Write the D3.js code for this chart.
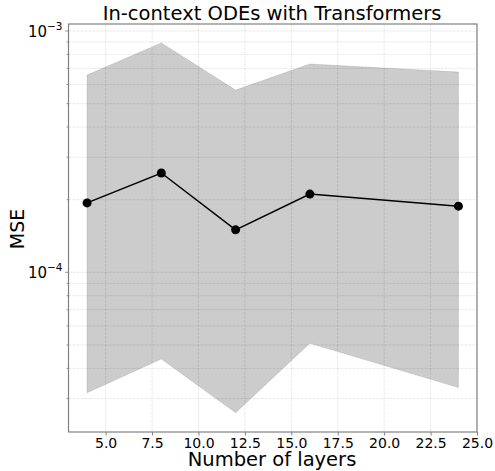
<!DOCTYPE html>
<html>
<head>
<meta charset="utf-8">
<script src="https://cdn.jsdelivr.net/npm/d3@7"></script>
<style>
  body { margin: 0; background: #fff; }
  text { font-family: "DejaVu Sans", sans-serif; fill: #000; }
</style>
</head>
<body>
<div id="vis"></div>
<script>
var layers = [4, 8, 12, 16, 24];
var mse = [1.94e-4, 2.58e-4, 1.50e-4, 2.11e-4, 1.88e-4];
var upper = [6.57e-4, 8.92e-4, 5.69e-4, 7.30e-4, 6.76e-4];
var lower = [3.17e-5, 4.37e-5, 2.62e-5, 5.08e-5, 3.33e-5];
var xTicks = [5, 7.5, 10, 12.5, 15, 17.5, 20, 22.5, 25];

function draw() {
  var width = 495, height = 471;
  var left = 68.5, right = 477, top = 24, bottom = 432;

  var svg = d3.select("#vis").append("svg")
              .attr("width", width)
              .attr("height", height);

  var x = d3.scaleLinear().domain([3, 25]).range([left, right]);
  var y = d3.scaleLog().domain([2.18e-5, 1.069e-3]).range([bottom, top]);

  // minor + major log ticks inside the domain
  var yTicksAll = [];
  [1e-5, 1e-4, 1e-3].forEach(function(d) {
    for (var k = 1; k < 10; k++) {
      var v = d * k;
      if (v >= y.domain()[0] && v <= y.domain()[1]) yTicksAll.push(v);
    }
  });

  var grid = svg.append("g");
  grid.selectAll(".hg").data(yTicksAll).enter().append("line")
      .attr("x1", left).attr("x2", right)
      .attr("y1", function(d) { return y(d); })
      .attr("y2", function(d) { return y(d); })
      .attr("stroke", "#b0b0b0").attr("stroke-opacity", 0.35)
      .attr("stroke-width", 0.8).attr("stroke-dasharray", "3,1");
  grid.selectAll(".vg").data(xTicks).enter().append("line")
      .attr("y1", top).attr("y2", bottom)
      .attr("x1", function(d) { return x(d); })
      .attr("x2", function(d) { return x(d); })
      .attr("stroke", "#b0b0b0").attr("stroke-opacity", 0.35)
      .attr("stroke-width", 0.8).attr("stroke-dasharray", "3,1");

  var band = d3.area()
      .x(function(d, i) { return x(layers[i]); })
      .y0(function(d, i) { return y(lower[i]); })
      .y1(function(d, i) { return y(upper[i]); });
  svg.append("path").datum(layers)
     .attr("d", band)
     .attr("fill", "#000").attr("fill-opacity", 0.2)
     .attr("stroke", "#000").attr("stroke-opacity", 0.1).attr("stroke-width", 1);

  var line = d3.line()
      .x(function(d, i) { return x(layers[i]); })
      .y(function(d) { return y(d); });
  svg.append("path").datum(mse)
     .attr("d", line).attr("fill", "none")
     .attr("stroke", "#000").attr("stroke-width", 1.5);
  svg.selectAll(".pt").data(mse).enter().append("circle")
     .attr("cx", function(d, i) { return x(layers[i]); })
     .attr("cy", function(d) { return y(d); })
     .attr("r", 4.5).attr("fill", "#000");

  // frame
  svg.append("rect")
     .attr("x", left).attr("y", top)
     .attr("width", right - left).attr("height", bottom - top)
     .attr("fill", "none").attr("stroke", "#808080").attr("stroke-width", 1.2);

  // x axis
  var xAxis = svg.append("g")
      .attr("transform", "translate(0," + bottom + ")")
      .call(d3.axisBottom(x).tickValues(xTicks).tickSize(3.5)
            .tickFormat(d3.format(".1f")));
  xAxis.select(".domain").remove();
  xAxis.selectAll("line").attr("stroke", "#808080");
  xAxis.selectAll("text").attr("font-size", 14).attr("y", 16).attr("dy", 0);

  // y axis
  var yAxis = svg.append("g").attr("transform", "translate(" + left + ",0)");
  yAxis.selectAll(".mt").data(yTicksAll).enter().append("line")
       .attr("x1", 0)
       .attr("x2", function(d) { return Math.abs(Math.log10(d) - Math.round(Math.log10(d))) < 1e-6 ? -3.5 : -2; })
       .attr("y1", function(d) { return y(d); })
       .attr("y2", function(d) { return y(d); })
       .attr("stroke", "#808080").attr("stroke-width", 0.8);
  var majors = [1e-4, 1e-3];
  var lab = yAxis.selectAll(".yl").data(majors).enter().append("text")
       .attr("x", -6).attr("y", function(d) { return y(d) + 6; })
       .attr("text-anchor", "end").attr("font-size", 15);
  lab.append("tspan").text("10");
  lab.append("tspan").attr("dy", -7).attr("font-size", 10.5)
     .text(function(d) { return "\u2212" + Math.round(-Math.log10(d)); });

  svg.append("text").attr("x", 272).attr("y", 20)
     .attr("text-anchor", "middle").attr("font-size", 19.5)
     .text("In-context ODEs with Transformers");
  svg.append("text").attr("x", 272).attr("y", 466)
     .attr("text-anchor", "middle").attr("font-size", 19.5)
     .text("Number of layers");
  svg.append("text")
     .attr("transform", "translate(24,229) rotate(-90)")
     .attr("text-anchor", "middle").attr("font-size", 19)
     .text("MSE");
}

draw();
</script>
</body>
</html>
